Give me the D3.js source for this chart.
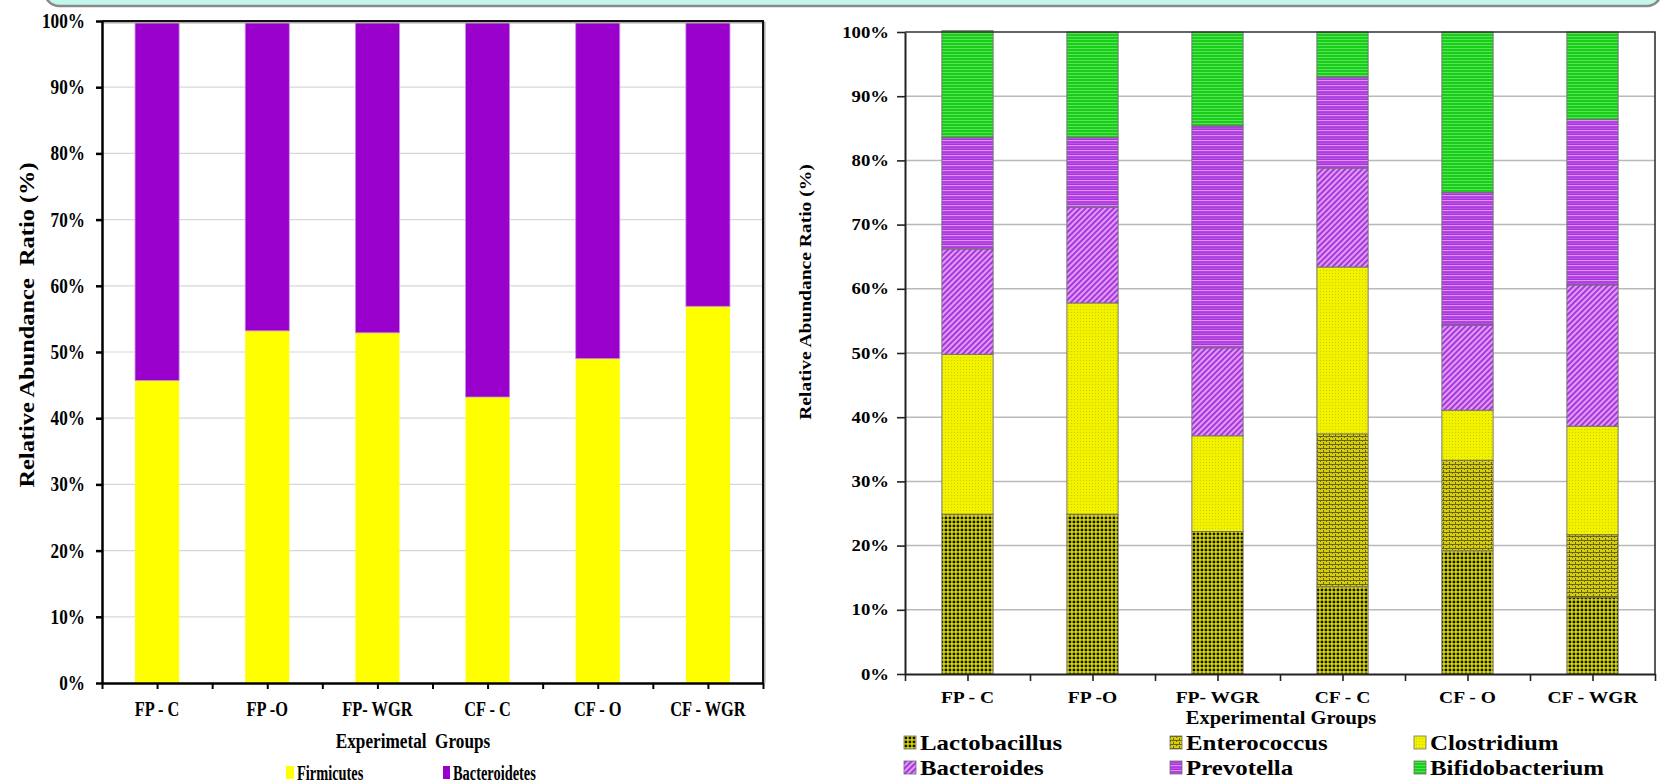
<!DOCTYPE html>
<html><head><meta charset="utf-8">
<script src="https://cdn.jsdelivr.net/npm/d3@7"></script>
<style>
body{margin:0;background:#fff}
svg{display:block}
text{font-family:"Liberation Serif","Times New Roman",serif;font-weight:bold;fill:#000}
</style></head>
<body><svg id="c" width="1667" height="784"></svg>
<script>
// ---------- data ----------
const groups = ["FP - C","FP -O","FP- WGR","CF - C","CF - O","CF - WGR"];
const phylaNames = ["Firmicutes","Bacteroidetes"];
const firmicutes    = [45.7,53.2,52.9,43.2,49.0,56.9];
const bacteroidetes = [54.3,46.8,47.1,56.8,51.0,43.1];
const genusNames = ["Lactobacillus","Enterococcus","Clostridium","Bacteroides","Prevotella","Bifidobacterium"];
const lactobacillus   = [24.9,24.9,22.2,13.6,19.2,11.9];
const enterococcus    = [0,0,0,23.8,14.1,9.8];
const clostridium     = [24.9,32.9,14.9,26.0,7.8,16.9];
const bacteroides     = [16.4,14.9,13.7,15.4,13.2,22.0];
const prevotella      = [17.4,10.9,34.6,14.2,20.7,25.8];
const bifidobacterium = [16.6,16.4,14.6,7.0,25.0,13.6];
const yTicks = [0,10,20,30,40,50,60,70,80,90,100];
const yTickLabels = ["0%","10%","20%","30%","40%","50%","60%","70%","80%","90%","100%"];
const leftYTitle = "Relative Abundance  Ratio (%)";
const leftXTitle = "Experimetal  Groups";
const rightYTitle = "Relative Abundance Ratio (%)";
const rightXTitle = "Experimental Groups";

const svg = d3.select("#c");

// ---------- helper for (stretched) text ----------
function txt(g, x, y, s, o) {
  o = o || {};
  const t = g.append("text")
    .attr("transform", `translate(${x},${y}) rotate(${o.rot||0}) scale(${o.sx||1},1)`)
    .attr("text-anchor", o.anchor || "start")
    .style("font-size", (o.size||16) + "px")
    .style("white-space", "pre")
    .text(s);
  return t;
}

// ---------- patterns ----------
const defs = svg.append("defs");
function pat(id, w, h, bg, draw, tr) {
  const p = defs.append("pattern").attr("id", id).attr("patternUnits", "userSpaceOnUse")
    .attr("width", w).attr("height", h);
  if (tr) p.attr("patternTransform", tr);
  p.append("rect").attr("width", w).attr("height", h).attr("fill", bg);
  draw(p);
}
pat("pLacto", 4, 4, "#eeee00", p => {
  p.append("rect").attr("x", 0.6).attr("y", 0.6).attr("width", 2.7).attr("height", 2.7).attr("fill", "#111");
});
pat("pEntero", 6, 4, "#d6ce10", p => {
  p.append("rect").attr("x", 0).attr("y", 0).attr("width", 6).attr("height", 1).attr("fill", "#6b6400");
  p.append("rect").attr("x", 0).attr("y", 0).attr("width", 1).attr("height", 2).attr("fill", "#6b6400");
  p.append("rect").attr("x", 3).attr("y", 2).attr("width", 1).attr("height", 2).attr("fill", "#6b6400");
});
pat("pClost", 3, 3, "#f2f200", p => {
  p.append("rect").attr("x", 0).attr("y", 0).attr("width", 1).attr("height", 1).attr("fill", "#cfcf00");
});
pat("pBacter", 4, 4, "#a838d8", p => {
  p.append("rect").attr("x", 0).attr("y", 0).attr("width", 1.8).attr("height", 4).attr("fill", "#e6a6ff");
}, "rotate(45)");
pat("pPrev", 4, 5, "#a435d6", p => {
  p.append("rect").attr("x", 0).attr("y", 0).attr("width", 4).attr("height", 1.2).attr("fill", "#e58cff");
  p.append("rect").attr("x", 0).attr("y", 2.8).attr("width", 4).attr("height", 0.8).attr("fill", "#c866f0");
});
pat("pBifi", 4, 3, "#1ccc1c", p => {
  p.append("rect").attr("x", 0).attr("y", 0).attr("width", 4).attr("height", 1).attr("fill", "#52e652");
});
const genusFill = ["url(#pLacto)","url(#pEntero)","url(#pClost)","url(#pBacter)","url(#pPrev)","url(#pBifi)"];
const phylaFill = ["#ffff00","#9900cc"];

// ---------- top banner ----------
svg.append("rect").attr("x", 45).attr("y", -30).attr("width", 1616).attr("height", 36)
  .attr("rx", 14).attr("fill", "#c2f7ec").attr("stroke", "#8a8a8a").attr("stroke-width", 2.5);

// ================= LEFT CHART =================
{
  const L = 102, R = 763, T = 21, B = 683;
  const x = d3.scaleBand().domain(groups).range([L, R]);
  const y = d3.scaleLinear().domain([0, 100]).range([B, T]);
  const g = svg.append("g");
  g.selectAll("line.grid").data(yTicks.slice(1, -1)).join("line")
    .attr("x1", L).attr("x2", R).attr("y1", d => y(d)).attr("y2", d => y(d))
    .attr("stroke", "#d8d8d8").attr("stroke-width", 1.2);
  const rows = groups.map((k, i) => ({ group: k, Firmicutes: firmicutes[i], Bacteroidetes: bacteroidetes[i] }));
  const stack = d3.stack().keys(phylaNames)(rows);
  const bw = x.bandwidth() * 0.4;
  stack.forEach((s, si) => {
    g.selectAll(null).data(s).join("rect")
      .attr("x", d => x(d.data.group) + (x.bandwidth() - bw) / 2)
      .attr("width", bw)
      .attr("y", d => y(d[1])).attr("height", d => y(d[0]) - y(d[1]))
      .attr("fill", phylaFill[si])
      .attr("stroke", si === 1 ? "#c78be6" : "none").attr("stroke-width", 0.8);
  });
  g.append("path").attr("d", `M${L},${T+1.5} H${R+1.5} V${B}`).attr("fill", "none")
    .attr("stroke", "#aaa").attr("stroke-width", 2);
  g.append("path").attr("d", `M${L},${T} H${R} V${B}`).attr("fill", "none")
    .attr("stroke", "#111").attr("stroke-width", 2);
  const ya = g.append("g").attr("transform", `translate(${L},0)`)
    .call(d3.axisLeft(y).tickValues(yTicks).tickFormat("").tickSize(6).tickSizeOuter(0));
  ya.select(".domain").attr("stroke", "#000").attr("stroke-width", 2.5);
  ya.selectAll(".tick line").attr("stroke", "#000").attr("stroke-width", 2.5);
  yTicks.forEach((v, i) => txt(g, 85, y(v) + 7, yTickLabels[i], { size: 20, anchor: "end", sx: 0.86 }));
  const xh = d3.scaleLinear().domain([0, 12]).range([L, R]);
  const xa = g.append("g").attr("transform", `translate(0,${B})`)
    .call(d3.axisBottom(xh).tickValues(d3.range(0, 13)).tickFormat("").tickSize(6).tickSizeOuter(0));
  xa.select(".domain").attr("stroke", "#000").attr("stroke-width", 2.5);
  xa.selectAll(".tick line").attr("stroke", "#000").attr("stroke-width", 2);
  groups.forEach(k => txt(g, x(k) + x.bandwidth() / 2, 716, k, { size: 20, anchor: "middle", sx: 0.82 }));
  txt(g, 413, 748, leftXTitle, { size: 20, anchor: "middle", sx: 0.86 });
  txt(g, 34, 325, leftYTitle, { size: 20, anchor: "middle", rot: -90, sx: 1.22 });
  const lg = [{ x: 286, w: 8, n: 0 }, { x: 443, w: 7, n: 1 }];
  lg.forEach(d => {
    g.append("rect").attr("x", d.x).attr("y", 766).attr("width", d.w).attr("height", 13).attr("fill", phylaFill[d.n]);
    txt(g, d.x + d.w + 3, 780, phylaNames[d.n], { size: 20, sx: 0.72 });
  });
}

// ================= RIGHT CHART =================
{
  const L = 905, R = 1655, T = 32, B = 674;
  const x = d3.scaleBand().domain(groups).range([L, R]);
  const y = d3.scaleLinear().domain([0, 100]).range([B, T]);
  const g = svg.append("g");
  g.selectAll("line.grid").data(yTicks.slice(1, -1)).join("line")
    .attr("x1", L).attr("x2", R).attr("y1", d => y(d)).attr("y2", d => y(d))
    .attr("stroke", "#b9b9b9").attr("stroke-width", 1.5);
  const series = [lactobacillus, enterococcus, clostridium, bacteroides, prevotella, bifidobacterium];
  const rows = groups.map((k, i) => {
    const o = { group: k };
    genusNames.forEach((n, j) => o[n] = series[j][i]);
    return o;
  });
  const stack = d3.stack().keys(genusNames)(rows);
  const bw = x.bandwidth() * 0.41;
  stack.forEach((s, si) => {
    g.selectAll(null).data(s.filter(d => d[1] - d[0] > 0)).join("rect")
      .attr("x", d => x(d.data.group) + (x.bandwidth() - bw) / 2)
      .attr("width", bw)
      .attr("y", d => y(d[1])).attr("height", d => y(d[0]) - y(d[1]))
      .attr("fill", genusFill[si])
      .attr("stroke", "#6f6f6f").attr("stroke-width", 0.9);
  });
  g.append("path").attr("d", `M${L},${T} H${R} V${B}`).attr("fill", "none")
    .attr("stroke", "#333").attr("stroke-width", 1.6);
  const ya = g.append("g").attr("transform", `translate(${L},0)`)
    .call(d3.axisLeft(y).tickValues(yTicks).tickFormat("").tickSize(8).tickSizeOuter(0));
  ya.select(".domain").attr("stroke", "#222").attr("stroke-width", 2);
  ya.selectAll(".tick line").attr("stroke", "#222").attr("stroke-width", 1.6);
  yTicks.forEach((v, i) => txt(g, 889, y(v) + 5.5, yTickLabels[i], { size: 16, anchor: "end", sx: 1.17 }));
  const xh = d3.scaleLinear().domain([0, 12]).range([L, R]);
  const xa = g.append("g").attr("transform", `translate(0,${B})`)
    .call(d3.axisBottom(xh).tickValues(d3.range(0, 13)).tickFormat("").tickSize(7).tickSizeOuter(0));
  xa.select(".domain").attr("stroke", "#222").attr("stroke-width", 2);
  xa.selectAll(".tick line").attr("stroke", "#222").attr("stroke-width", 1.6);
  groups.forEach(k => txt(g, x(k) + x.bandwidth() / 2, 703, k, { size: 17, anchor: "middle", sx: 1.15 }));
  txt(g, 1281, 724, rightXTitle, { size: 18, anchor: "middle", sx: 1.14 });
  txt(g, 811, 292, rightYTitle, { size: 17, anchor: "middle", rot: -90, sx: 1.15 });
  const cols = [904, 1170, 1414], rowsY = [750, 775];
  genusNames.forEach((n, i) => {
    const cx = cols[i % 3], cy = rowsY[Math.floor(i / 3)];
    g.append("rect").attr("x", cx).attr("y", cy - 14).attr("width", 12).attr("height", 13)
      .attr("fill", genusFill[i]).attr("stroke", "#6f6f6f").attr("stroke-width", 0.8);
    txt(g, cx + 16, cy, n, { size: 22, sx: 1.13 });
  });
}
</script>
</body></html>
